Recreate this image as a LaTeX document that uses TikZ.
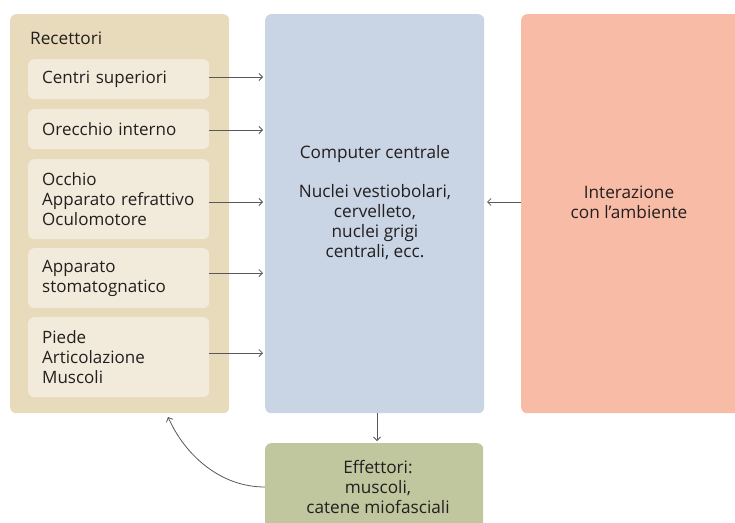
\documentclass[tikz,border=0pt]{standalone}
\usepackage{fontspec}
\setmainfont{Open Sans}
\usetikzlibrary{arrows.meta}
\definecolor{tanout}{HTML}{E8DBBB}
\definecolor{tanin}{HTML}{F2EADA}
\definecolor{bluebox}{HTML}{C9D4E4}
\definecolor{salmon}{HTML}{F8BCA6}
\definecolor{greenbox}{HTML}{C0C69E}
\definecolor{txt}{HTML}{231F20}
\definecolor{arrgray}{HTML}{58585A}
\tikzset{
  panel/.style={rounded corners=6pt, anchor=north west, inner sep=0pt},
  inbox/.style={panel, fill=tanin, minimum width=181pt, text width=153pt, inner xsep=14pt, align=left, font=\fontsize{17}{20}\selectfont, text=txt},
  lbl/.style={font=\fontsize{17.2}{20}\selectfont, text=txt, align=center, inner sep=0pt},
  arr/.style={draw=arrgray, line width=0.8pt, -{Straight Barb[length=3.5pt,width=7pt]}}
}
\begin{document}
\begin{tikzpicture}[x=1pt,y=-1pt]
\useasboundingbox (0,0) rectangle (735,522);
\clip (0,0) rectangle (735,522);
\fill[white] (0,0) rectangle (735,522);
% panels
\node[panel, fill=tanout, minimum width=219pt, minimum height=399pt] (rec) at (10,14) {};
\node[panel, fill=bluebox, minimum width=219pt, minimum height=399pt] (cpu) at (265,14) {};
\node[panel, fill=salmon, minimum width=230pt, minimum height=399pt] (env) at (521,14) {};
\node[panel, fill=greenbox, minimum width=218pt, minimum height=100pt] (eff) at (265,443) {};
% labels of panels
\node[lbl, anchor=west] (rect) at (30,38) {Recettori};
\node[lbl] (cput) at (375,203) {Computer centrale\\[19pt]Nuclei vestiobolari,\\cervelleto,\\nuclei grigi\\centrali, ecc.};
\node[lbl] (envt) at (629,202) {Interazione\\con l’ambiente};
\node[lbl] (efft) at (378,487) {Effettori:\\muscoli,\\catene miofasciali};
% inner boxes
\node[inbox, minimum height=40pt] (b1) at (28,59) {Centri superiori};
\node[inbox, minimum height=40pt] (b2) at (28,109) {Orecchio interno};
\node[inbox, minimum height=80pt] (b3) at (28,159) {Occhio\\Apparato refrattivo\\Oculomotore};
\node[inbox, minimum height=60pt] (b4) at (28,248) {Apparato\\stomatognatico};
\node[inbox, minimum height=80pt] (b5) at (28,317) {Piede\\Articolazione\\Muscoli};
% arrows
\coordinate (e1) at (263,77);
\coordinate (e2) at (263,130);
\coordinate (e3) at (263,202);
\coordinate (e4) at (263,273);
\coordinate (e5) at (263,353);
\draw[arr] (b1.east |- e1) -- (e1);
\draw[arr] (b2.east |- e2) -- (e2);
\draw[arr] (b3.east |- e3) -- (e3);
\draw[arr] (b4.east |- e4) -- (e4);
\draw[arr] (b5.east |- e5) -- (e5);
\coordinate (e6) at (487,202);
\draw[arr] (env.west |- e6) -- (e6);
\coordinate (e7) at (377,441);
\draw[arr] (cpu.south -| e7) -- (e7);
\coordinate (e8) at (168,417);
\draw[arr] (eff.west |- 0,487) .. controls (220,487) and (185,455) .. (e8);
\end{tikzpicture}
\end{document}
